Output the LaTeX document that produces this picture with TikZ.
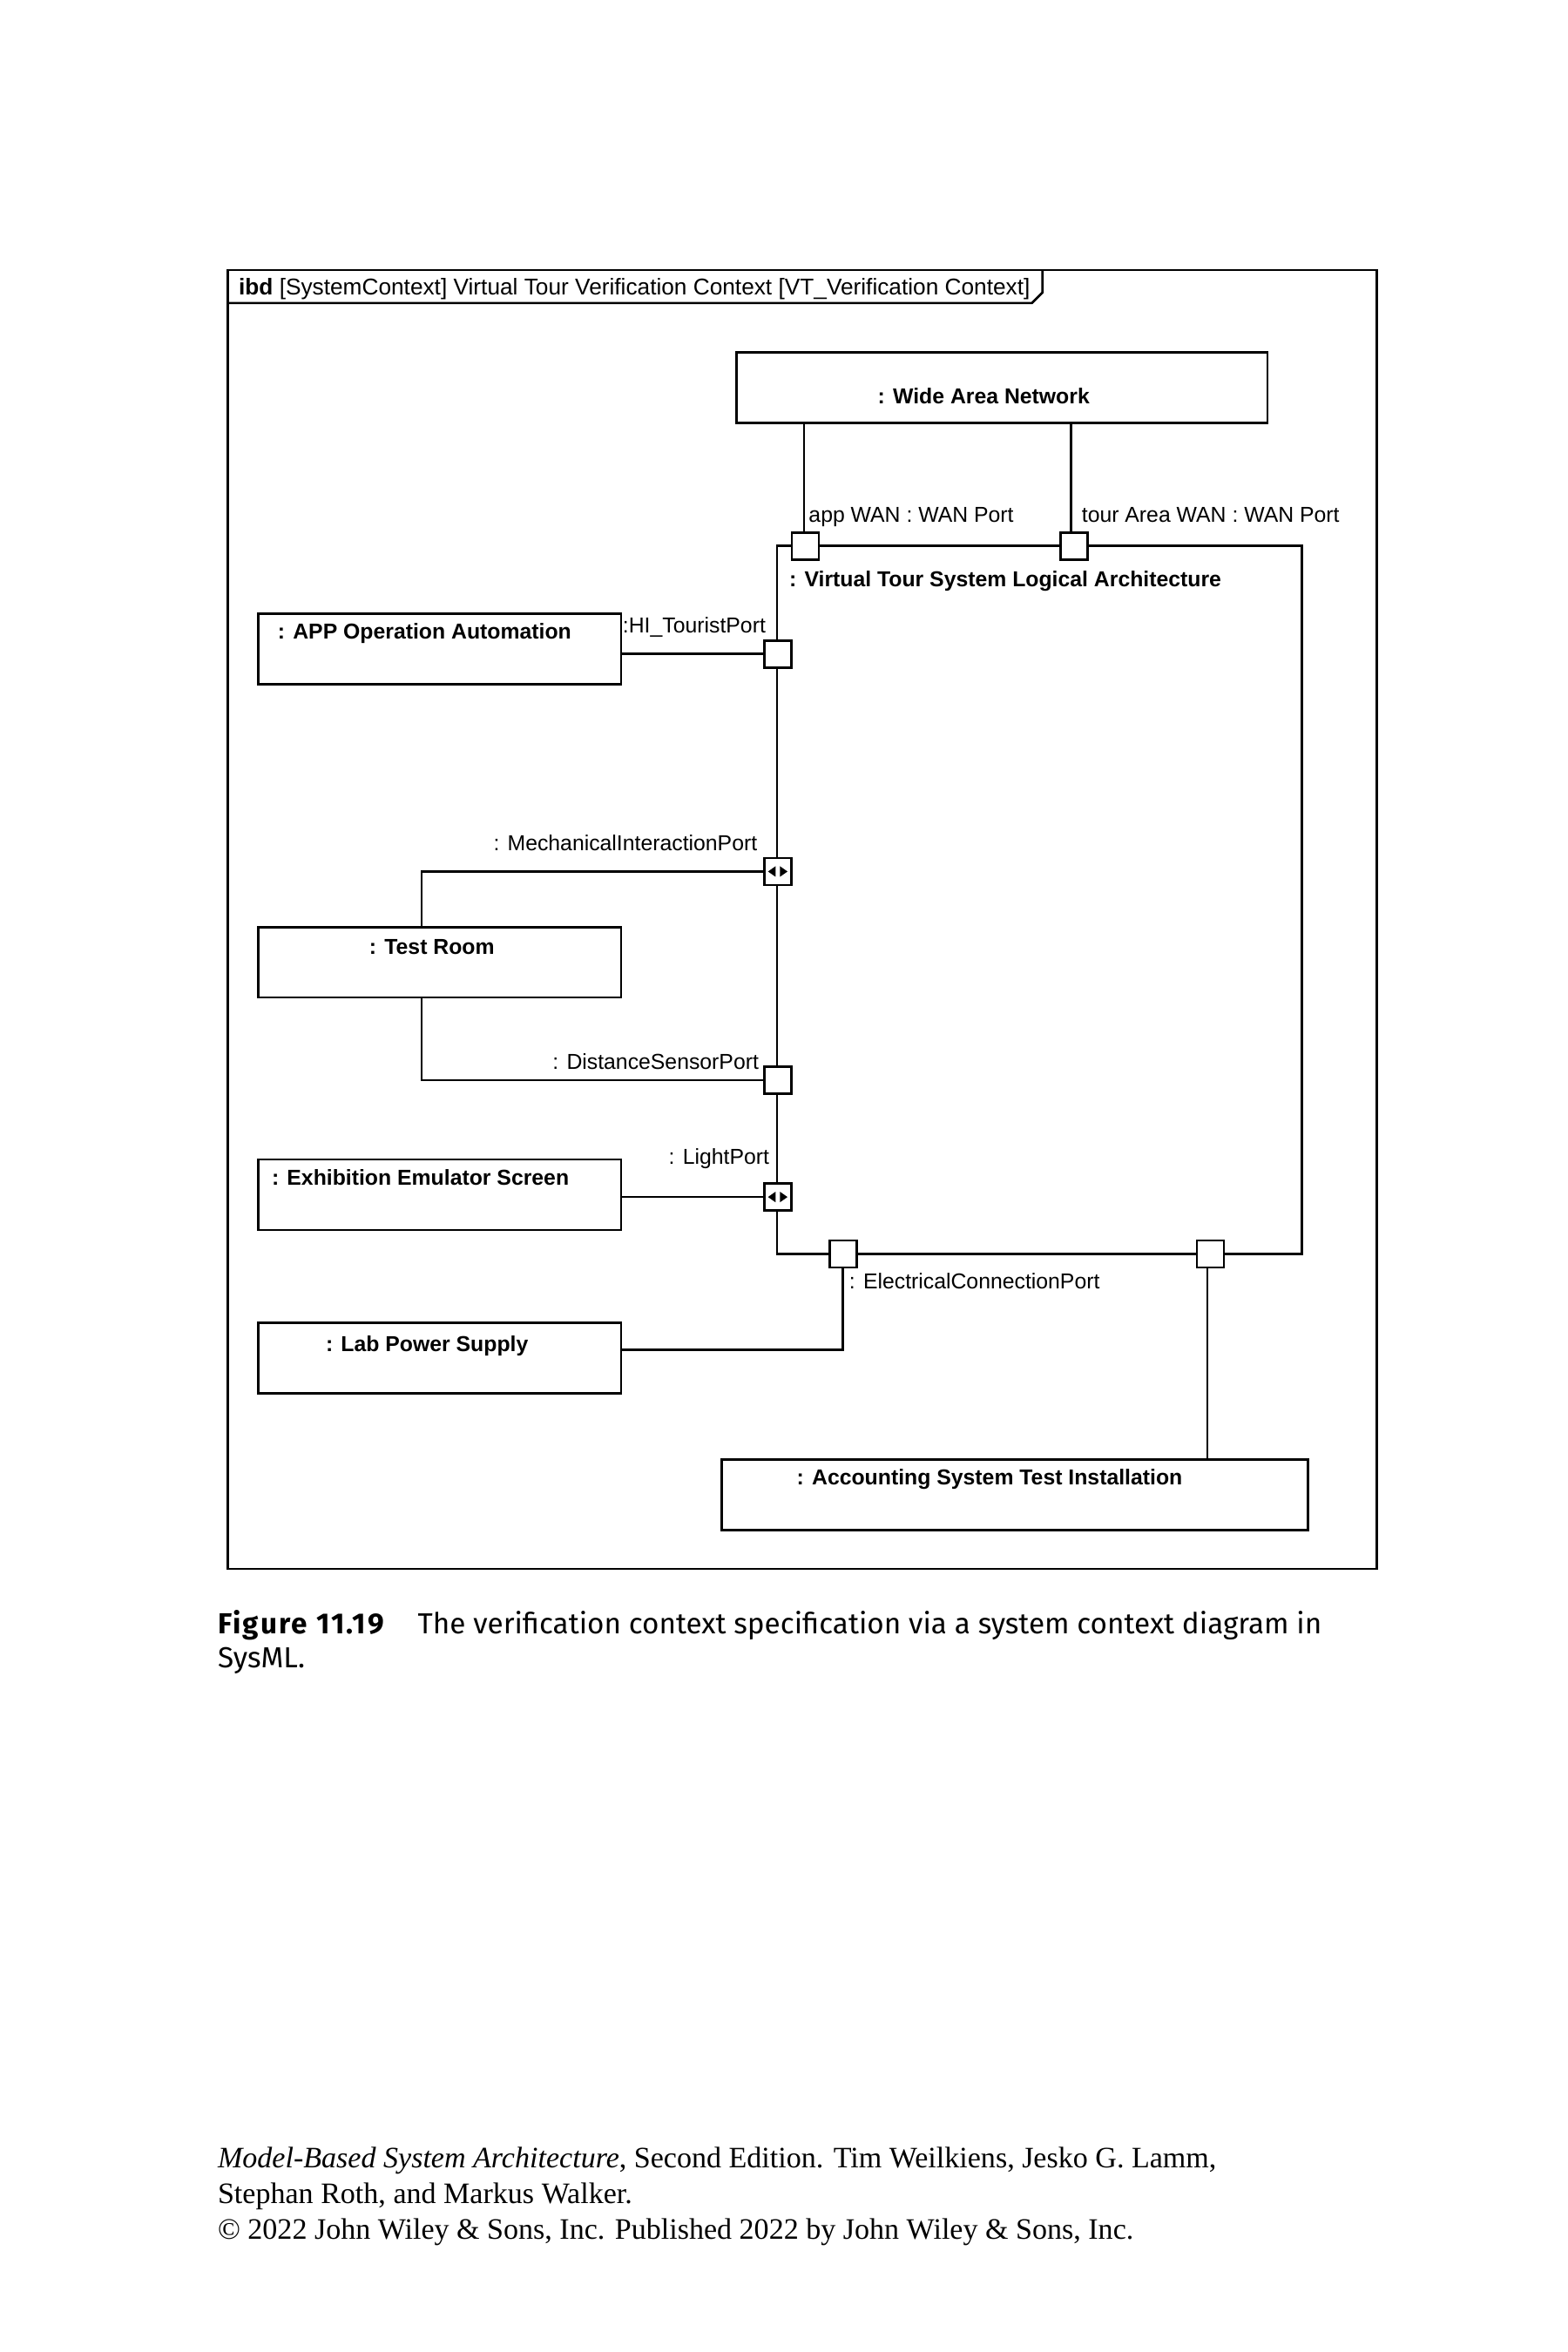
\documentclass[tikz,border=0pt]{standalone}
\usepackage{fontspec}
\setmainfont{Liberation Serif}
\newfontfamily\diagfont{Liberation Sans}
\newfontfamily\capfont{Fira Sans}
\begin{document}
\begin{tikzpicture}[x=1bp,y=-1bp,
  ln/.style={line width=1.5bp},
  blk/.style={draw,line width=1.6bp,rectangle,inner sep=0pt,minimum width=242bp,minimum height=47bp},
  portbox/.style={draw,fill=white,line width=1.5bp,rectangle,inner sep=0pt,minimum size=18bp},
  lbl/.style={inner sep=0pt,font=\diagfont\fontsize{14.45}{17}\selectfont},
  blbl/.style={inner sep=0pt,font=\diagfont\bfseries\fontsize{14.45}{17}\selectfont},
  caps/.style={inner sep=0pt,anchor=base west,font=\capfont\fontsize{19.4}{23}\selectfont},
  foot/.style={inner sep=0pt,anchor=base west,font=\fontsize{19.85}{24}\selectfont},
  tri/.style={fill=black,draw=none}
]
\useasboundingbox (0,0) rectangle (1045.33,1568);
% frame
\draw[ln] (152,180) rectangle (918,1046);
\draw[ln] (152,202) -- (688,202) -- (695,195) -- (695,180);
\node[inner sep=0pt,font=\diagfont\fontsize{15.3}{17}\selectfont,anchor=base west] (hdr) at (159,196.5) {\textbf{ibd} [SystemContext] Virtual Tour Verification Context [VT\_Verification Context]};

% blocks
\node[blk,minimum width=354bp] (wan) at (668,258.5) {};
\node[blbl,anchor=base west] (want) at (585,269) {: Wide Area Network};
\node[draw,line width=1.6bp,rectangle,inner sep=0pt,minimum width=350bp,minimum height=472bp] (vts) at (693,600) {};
\node[blbl,anchor=base west] (vtst) at (526,391) {: Virtual Tour System Logical Architecture};
\node[blk] (app) at (293,432.5) {};
\node[blbl,anchor=base west] (appt) at (185,426) {: APP Operation Automation};
\node[blk] (room) at (293,641.5) {};
\node[blbl,anchor=base west] (roomt) at (246,636) {: Test Room};
\node[blk] (scr) at (293,796.5) {};
\node[blbl,anchor=base west] (scrt) at (181,790) {: Exhibition Emulator Screen};
\node[blk] (lab) at (293,905.5) {};
\node[blbl,anchor=base west] (labt) at (217,901) {: Lab Power Supply};
\node[blk,minimum width=391bp] (acc) at (676.5,996.5) {};
\node[blbl,anchor=base west] (acct) at (531,990) {: Accounting System Test Installation};

% coordinates for bends
\coordinate (trx) at (281,0);
\coordinate (laby) at (0,900);
\coordinate (accx) at (805,0);
\coordinate (appwanc) at (536,364);
\coordinate (tourwanc) at (714,364);

% connectors to the network (drawn before the ports)
\draw[ln] (wan.south -| appwanc) -- (appwanc);
\draw[ln] (wan.south -| tourwanc) -- (tourwanc);

% ports
\node[portbox] (appwan) at (537,364) {};
\node[portbox] (tourwan) at (716,364) {};
\node[portbox] (hi) at (518.5,436) {};
\node[portbox] (mech) at (518.5,581) {};
\node[portbox] (dist) at (518.5,720) {};
\node[portbox] (light) at (518.5,798) {};
\node[portbox] (ecp) at (562,836) {};
\node[portbox] (accp) at (807,836) {};

% flow icons
\foreach \p in {mech,light}{
  \fill[tri] ([xshift=-6.5bp]\p.center) -- ([xshift=-1.5bp,yshift=3.5bp]\p.center) -- ([xshift=-1.5bp,yshift=-3.5bp]\p.center) -- cycle;
  \fill[tri] ([xshift=6.5bp]\p.center) -- ([xshift=1.5bp,yshift=3.5bp]\p.center) -- ([xshift=1.5bp,yshift=-3.5bp]\p.center) -- cycle;
}

\draw[ln] (app.east |- hi) -- (hi.west);
\draw[ln] (mech.west) -| (room.north -| trx);
\draw[ln] (room.south -| trx) |- (dist.west);
\draw[ln] (scr.east |- light) -- (light.west);
\draw[ln] (ecp.south) |- (lab.east |- laby);
\draw[ln] (accp.south -| accx) -- (acc.north -| accx);

% port labels
\node[lbl,anchor=base west] (appwanl) at (539,348) {app WAN : WAN Port};
\node[lbl,anchor=base west] (tourwanl) at (721,348) {tour Area WAN : WAN Port};
\node[lbl,anchor=base west] (hil) at (415,422) {:HI\_TouristPort};
\node[lbl,anchor=base east] (mechl) at (505,567) {: MechanicalInteractionPort};
\node[lbl,anchor=base east] (distl) at (506,713) {: DistanceSensorPort};
\node[lbl,anchor=base east] (lightl) at (513,776) {: LightPort};
\node[lbl,anchor=base west] (ecpl) at (566,859) {: ElectricalConnectionPort};

% caption
\node[caps] (cap1) at (145,1089) {{\bfseries\addfontfeature{LetterSpace=6.5}Figure 11.19}\hspace{22.5bp}The verification context specification via a system context diagram in};
\node[caps] (cap2) at (145,1112) {SysML.};

% footer
\node[foot] (f1) at (145,1445) {\textit{Model-Based System Architecture}, Second Edition. Tim Weilkiens, Jesko G. Lamm,};
\node[foot] (f2) at (145,1469) {Stephan Roth, and Markus Walker.};
\node[foot] (f3) at (145,1493) {\textcopyright{} 2022 John Wiley \& Sons, Inc. Published 2022 by John Wiley \& Sons, Inc.};
\end{tikzpicture}
\end{document}
